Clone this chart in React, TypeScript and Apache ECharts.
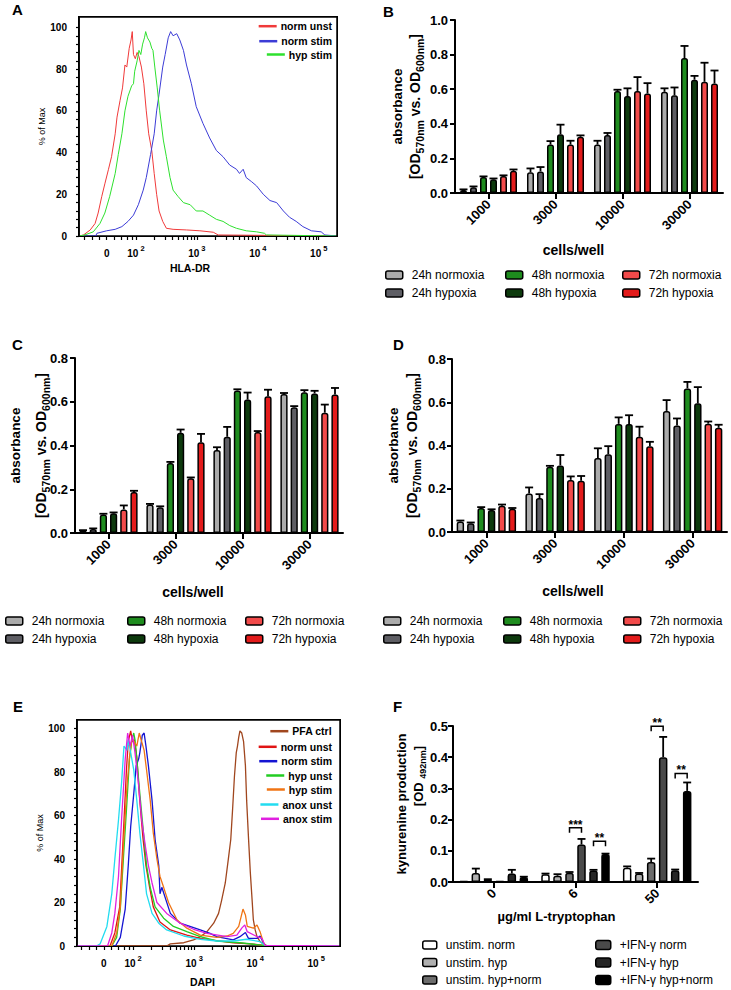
import React, { useEffect, useRef } from 'react';
import * as echarts from 'echarts';

const FONT = 'Liberation Sans, Arial, Helvetica, sans-serif';

// ---------------- Flow histograms (x in display decades: 10^2 = 2, 10^3 = 3 ...) -------------
const flowMajorTicks = [1.52, 2, 3, 4, 5];
const flowMajorExp = ['', '2', '3', '4', '5'];

// Panel A: HLA-DR
const aNormUnst: number[][] = [[1.07,0],[1.14,0.5],[1.25,2.9],[1.33,6],[1.38,11],[1.44,19],[1.49,25],[1.55,32],[1.6,38],[1.66,49],[1.69,57],[1.74,65],[1.78,71],[1.82,82],[1.85,81],[1.89,90],[1.92,94],[1.94,98],[1.96,87],[1.99,85],[2.02,88],[2.05,86],[2.09,81],[2.13,73],[2.17,60],[2.21,49],[2.26,41],[2.3,30],[2.34,20],[2.38,12],[2.44,7],[2.5,3.7],[2.61,3.2],[2.83,2.9],[3.05,2.5],[3.27,1.8],[3.35,0.5],[5.3,0]];
const aNormStim: number[][] = [[1.07,0],[1.34,0],[1.36,1.3],[1.52,2.5],[1.66,3.2],[1.77,4.5],[1.87,7],[1.96,10],[2.04,15],[2.12,22],[2.17,28],[2.24,39],[2.3,49],[2.34,60],[2.38,68],[2.44,81],[2.48,87],[2.53,95],[2.57,98],[2.61,96],[2.67,97],[2.72,94],[2.78,89],[2.83,82],[2.91,73],[2.99,62],[3.1,54],[3.21,47],[3.32,41],[3.43,38],[3.54,34],[3.65,32],[3.7,30],[3.76,32],[3.81,28],[3.9,26],[3.98,24],[4.09,20],[4.2,17],[4.31,16],[4.42,12],[4.52,9],[4.63,7],[4.74,4.5],[4.88,2.5],[5.04,2],[5.1,0.5],[5.3,0]];
const aHypStim: number[][] = [[1.07,0],[1.16,0.5],[1.3,2],[1.41,6],[1.49,11],[1.57,19],[1.66,30],[1.71,39],[1.77,49],[1.82,60],[1.87,67],[1.93,72],[1.96,73],[1.98,79],[2.02,84],[2.05,89],[2.08,87],[2.11,92],[2.14,95],[2.16,98],[2.19,95],[2.23,93],[2.26,90],[2.28,89],[2.31,81],[2.35,71],[2.39,60],[2.45,46],[2.5,38],[2.56,28],[2.61,22],[2.69,19],[2.78,16],[2.89,15],[2.99,12],[3.1,12],[3.21,10],[3.32,8],[3.43,7],[3.54,5],[3.65,3.7],[3.81,2.5],[3.98,2],[4.11,1.3],[4.14,0.5],[5.3,0]];

// Panel E: DAPI
const ePfaCtrl: number[][] = [[1.08,0],[2.55,0],[2.61,1],[2.83,1.5],[2.99,2.8],[3.1,4.3],[3.21,6.6],[3.32,10.5],[3.4,15],[3.45,21],[3.51,29],[3.56,40],[3.6,49],[3.63,63],[3.66,78],[3.69,89],[3.71,92],[3.73,96],[3.75,99],[3.78,98],[3.81,94],[3.84,83],[3.86,67],[3.89,50],[3.92,34],[3.95,21],[3.97,12],[4.0,7.4],[4.03,4.3],[4.08,2],[4.14,1],[4.19,0],[5.39,0]];
const eNormUnst: number[][] = [[1.08,0],[1.62,0],[1.7,6],[1.78,18],[1.83,46],[1.89,81],[1.92,94],[1.96,99],[1.99,94],[2.02,95],[2.06,87],[2.1,70],[2.16,50],[2.21,37],[2.27,27],[2.33,18],[2.44,11],[2.61,7.4],[2.88,5],[3.1,3.5],[3.37,2.5],[3.64,1.5],[3.92,1],[4.14,0.3],[5.39,0]];
const eNormStim: number[][] = [[1.08,0],[1.71,0],[1.79,4],[1.87,17],[1.92,37],[1.96,55],[2.01,70],[2.05,83],[2.09,86],[2.11,89],[2.15,97],[2.18,98],[2.21,92],[2.25,83],[2.31,67],[2.36,49],[2.42,37],[2.44,24],[2.47,27],[2.61,15],[2.77,10.5],[2.93,9],[3.1,7.4],[3.26,5.8],[3.37,4.3],[3.64,2.8],[3.75,4.3],[3.84,6.2],[3.89,3.5],[4.03,3.5],[4.08,4.6],[4.14,1.2],[4.19,0],[5.39,0]];
const eHypUnst: number[][] = [[1.08,0],[1.65,0],[1.73,4],[1.79,17],[1.84,40],[1.9,67],[1.94,86],[1.98,95],[2.01,98],[2.03,95],[2.06,86],[2.11,70],[2.17,52],[2.22,37],[2.28,27],[2.36,18],[2.5,12.8],[2.66,9],[2.88,6.6],[3.1,4.3],[3.37,2.3],[3.75,1.5],[4.14,0.3],[5.39,0]];
const eHypStim: number[][] = [[1.08,0],[1.65,0],[1.73,6],[1.79,18],[1.84,46],[1.9,74],[1.94,87],[1.98,95],[2.02,94],[2.06,92],[2.1,98],[2.14,94],[2.18,90],[2.22,81],[2.28,67],[2.33,52],[2.39,40],[2.44,32],[2.5,27],[2.58,20],[2.72,12],[2.88,8.2],[3.1,5],[3.37,4],[3.54,4.6],[3.64,5.8],[3.73,9],[3.77,13.5],[3.8,17],[3.84,14.3],[3.87,9],[3.97,8.2],[4.03,9.7],[4.08,6.6],[4.14,1.2],[4.19,0],[5.39,0]];
const eAnoxUnst: number[][] = [[1.08,0],[1.4,0],[1.46,1],[1.57,9],[1.65,24],[1.7,40],[1.76,58],[1.81,75],[1.85,92],[1.9,90],[1.92,95],[1.96,89],[2.01,81],[2.06,67],[2.11,52],[2.17,37],[2.22,24],[2.31,15],[2.42,10.5],[2.55,7.4],[2.83,4.6],[3.1,3.1],[3.37,2.3],[3.64,2.3],[3.86,3.1],[4.08,2],[4.16,0.3],[5.39,0]];
const eAnoxStim: number[][] = [[1.08,0],[1.58,0],[1.65,6],[1.7,15],[1.76,32],[1.81,58],[1.87,86],[1.91,98],[1.95,92],[1.99,97],[2.03,89],[2.09,74],[2.14,58],[2.2,46],[2.25,37],[2.31,29],[2.39,20],[2.55,15],[2.77,10.5],[2.99,7.7],[3.21,5.8],[3.54,4.3],[3.7,5],[3.78,8.2],[3.83,9.7],[3.87,6.6],[4.03,4.3],[4.11,3.5],[4.16,0.3],[5.39,0]];

// ---------------- Bar panels B, C, D ----------------
const cellCats = ['1000', '3000', '10000', '30000'];
const timeNames = ['24h normoxia', '24h hypoxia', '48h normoxia', '48h hypoxia', '72h normoxia', '72h hypoxia'];
const timeColors = ['#ababab', '#5e5e64', '#1e8c1e', '#0d3a0d', '#f24a4a', '#e31b1b'];

const bMeans = [
  [0.018, 0.12, 0.28, 0.585],
  [0.033, 0.125, 0.335, 0.565],
  [0.092, 0.28, 0.59, 0.78],
  [0.08, 0.34, 0.56, 0.655],
  [0.098, 0.28, 0.59, 0.643],
  [0.128, 0.325, 0.575, 0.633],
];
const bErrs = [
  [0.003, 0.022, 0.022, 0.02],
  [0.005, 0.025, 0.012, 0.045],
  [0.004, 0.02, 0.007, 0.07],
  [0.004, 0.055, 0.045, 0.022],
  [0.004, 0.022, 0.08, 0.11],
  [0.008, 0.008, 0.06, 0.075],
];
const cMeans = [
  [0.011, 0.13, 0.38, 0.635],
  [0.018, 0.118, 0.44, 0.575],
  [0.085, 0.32, 0.652, 0.643],
  [0.09, 0.458, 0.61, 0.638],
  [0.108, 0.25, 0.462, 0.55],
  [0.188, 0.415, 0.625, 0.633],
];
const cErrs = [
  [0.002, 0.003, 0.012, 0.005],
  [0.003, 0.004, 0.045, 0.005],
  [0.003, 0.005, 0.005, 0.01],
  [0.004, 0.015, 0.032, 0.012],
  [0.018, 0.004, 0.004, 0.037],
  [0.005, 0.038, 0.03, 0.03],
];
const dMeans = [
  [0.049, 0.178, 0.342, 0.56],
  [0.041, 0.157, 0.36, 0.493],
  [0.111, 0.302, 0.5, 0.664],
  [0.102, 0.308, 0.5, 0.595],
  [0.121, 0.241, 0.44, 0.501],
  [0.107, 0.237, 0.397, 0.482],
];
const dErrs = [
  [0.004, 0.028, 0.045, 0.05],
  [0.003, 0.018, 0.037, 0.032],
  [0.004, 0.004, 0.03, 0.03],
  [0.003, 0.048, 0.04, 0.075],
  [0.006, 0.016, 0.047, 0.01],
  [0.004, 0.022, 0.02, 0.014],
];

// ---------------- Panel F ----------------
const trpCats = ['0', '6', '50'];
const kynNames = ['unstim. norm', 'unstim. hyp', 'unstim. hyp+norm', '+IFN-γ norm', '+IFN-γ hyp', '+IFN-γ hyp+norm'];
const kynColors = ['#ffffff', '#b0b0b0', '#6c6c6c', '#4a4a4a', '#262626', '#000000'];
const fMeans = [
  [0.003, 0.025, 0.046],
  [0.029, 0.02, 0.027],
  [0.008, 0.03, 0.064],
  [0.003, 0.12, 0.4],
  [0.027, 0.037, 0.038],
  [0.016, 0.09, 0.292],
];
const fErrs = [
  [0, 0.002, 0.004],
  [0.014, 0.005, 0.002],
  [0.001, 0.002, 0.011],
  [0, 0.018, 0.065],
  [0.012, 0.002, 0.002],
  [0.001, 0.001, 0.027],
];
// [category, left bar, right bar, bracket height]
const fBrackets = [
  [1, 2, 3, 0.174],
  [1, 4, 5, 0.131],
  [2, 2, 3, 0.499],
  [2, 4, 5, 0.348],
];
const fBracketLabels = ['***', '**', '**', '**'];

// ---------------- helpers ----------------
const letter = (t: string, x: number, y: number) => ({
  type: 'text', left: x, top: y, silent: true,
  style: { text: t, fill: '#000', font: `bold 15px ${FONT}` },
});

function flowPanel(cfg: any) {
  const xTicks: number[] = [...flowMajorTicks, 1.15, 1.28, 1.4, 1.64, 1.76, 1.86, 1.94];
  for (const d of [2, 3, 4]) for (let k = 2; k <= 9; k++) xTicks.push(d + Math.log10(k));
  const yMajor = [0, 20, 40, 60, 80, 100];
  const yTicks: number[] = [...yMajor];
  for (let v = 4; v < 100; v += 4) if (v % 20 !== 0) yTicks.push(v);
  const g = cfg.grid;
  const frameStyle = { stroke: '#000000', lineWidth: 1.5 };
  const x0 = g.left, y0 = g.top, x1 = g.left + g.width, y1 = g.top + g.height;
  return {
    animation: false,
    textStyle: { fontFamily: FONT },
    graphic: [
      letter(cfg.letter, cfg.letterPos[0], cfg.letterPos[1]),
      { type: 'line', silent: true, z: 30, shape: { x1: x0, y1: y0, x2: x1, y2: y0 }, style: frameStyle },
      { type: 'line', silent: true, z: 30, shape: { x1: x1, y1: y0, x2: x1, y2: y1 }, style: frameStyle },
      { type: 'line', silent: true, z: 30, shape: { x1: x0, y1: y0, x2: x0, y2: y1 }, style: frameStyle },
    ],
    grid: { ...g, outerBoundsMode: 'none', containLabel: false },
    xAxis: {
      type: 'value', position: 'bottom', min: cfg.xMin, max: cfg.xMax, nameMoveOverlap: false,
      splitLine: { show: false },
      axisLine: { show: true, onZero: false, lineStyle: { color: '#000', width: 1.5 } },
      axisTick: { show: true, customValues: xTicks, length: 4, lineStyle: { color: '#000', width: 1.2 } },
      axisLabel: {
        customValues: flowMajorTicks, margin: 8, color: '#000',
        formatter: (v: number) => {
          const i = flowMajorTicks.findIndex((m) => Math.abs(m - v) < 1e-6);
          if (i < 0) return '';
          return flowMajorExp[i] ? `{n|10}{s|${flowMajorExp[i]}}` : '{n|0}';
        },
        rich: {
          n: { fontSize: 10, fontWeight: 'bold', lineHeight: 18, fontFamily: FONT, color: '#000' },
          s: { fontSize: 7.5, fontWeight: 'bold', lineHeight: 8, verticalAlign: 'top', padding: [0, 0, 0, 2], fontFamily: FONT, color: '#000' },
        },
      },
      name: cfg.xName, nameLocation: 'middle', nameGap: cfg.xNameGap,
      nameTextStyle: { fontSize: 10.5, fontWeight: 'bold', color: '#000', fontFamily: FONT, padding: [0, cfg.xNameShift * 2, 0, 0] },
    },
    yAxis: {
      type: 'value', position: 'left', min: 0, max: cfg.yMax, nameMoveOverlap: false,
      splitLine: { show: false },
      axisLine: { show: true, onZero: false, lineStyle: { color: '#000', width: 1.5 } },
      axisTick: { show: true, customValues: yTicks, length: 3, lineStyle: { color: '#000', width: 1.2 } },
      axisLabel: { customValues: yMajor, margin: 12, fontSize: 10, fontWeight: 'bold', color: '#000', fontFamily: FONT },
      name: '% of Max', nameLocation: 'middle', nameGap: cfg.yNameGap,
      nameTextStyle: { fontSize: 9, color: '#000', fontFamily: FONT },
    },
    legend: cfg.series.map((s: any, i: number) => ({
      data: [s.name], right: cfg.legendRight, top: cfg.legendTops[i] - 6, orient: 'vertical',
      icon: 'rect', itemWidth: 18, itemHeight: 2.5, padding: 0, selectedMode: false,
      textStyle: { fontSize: 10.5, fontWeight: 'bold', color: '#000', fontFamily: FONT, padding: [0, 0, 0, -1] },
    })),
    series: cfg.series.map((s: any) => ({
      type: 'line', name: s.name, data: s.data,
      symbol: 'none', showSymbol: false, silent: true, color: s.color,
      lineStyle: { color: s.color, width: cfg.lineWidth },
      itemStyle: { color: s.color },
    })),
  };
}

function barPanel(cfg: any) {
  const bw = cfg.barWidth;
  const gap = `${(((cfg.pitch - bw) / bw) * 100).toFixed(2)}%`;
  const nb = cfg.names.length;
  const errData: number[][] = [];
  cfg.means.forEach((row: number[], i: number) =>
    row.forEach((m, j) => { if (cfg.errs[i][j] > 0) errData.push([j, i, m, cfg.errs[i][j]]); }));
  const pitch = cfg.pitch;
  const series: any[] = cfg.names.map((name: string, i: number) => ({
    type: 'bar', name, data: cfg.means[i], barWidth: bw, barGap: gap, silent: true,
    itemStyle: { color: cfg.colors[i], borderColor: '#000', borderWidth: 1.5, borderRadius: [2, 2, 0, 0] },
  }));
  series.push({
    type: 'custom', name: 'err', data: errData, encode: { x: 0, y: 2 }, z: 5, silent: true, clip: false,
    renderItem: (params: any, api: any) => {
      const cat = api.value(0), idx = api.value(1), m = api.value(2), e = api.value(3);
      const p0 = api.coord([cat, m]);
      const p1 = api.coord([cat, m + e]);
      const x = p0[0] + (idx - (nb - 1) / 2) * pitch;
      const st = { stroke: '#000', lineWidth: 1.8 };
      return {
        type: 'group', children: [
          { type: 'line', shape: { x1: x, y1: p0[1], x2: x, y2: p1[1] }, style: st },
          { type: 'line', shape: { x1: x - cfg.cap / 2, y1: p1[1], x2: x + cfg.cap / 2, y2: p1[1] }, style: st },
        ],
      };
    },
  });
  if (cfg.brackets) {
    series.push({
      type: 'custom', name: 'sig', data: cfg.brackets, encode: { x: 0, y: 3 }, z: 6, silent: true, clip: false,
      renderItem: (params: any, api: any) => {
        const cat = api.value(0);
        const p = api.coord([cat, api.value(3)]);
        const xl = p[0] + (api.value(1) - (nb - 1) / 2) * pitch;
        const xr = p[0] + (api.value(2) - (nb - 1) / 2) * pitch;
        return {
          type: 'group', children: [
            { type: 'polyline', shape: { points: [[xl, p[1] + 5], [xl, p[1]], [xr, p[1]], [xr, p[1] + 5]] }, style: { stroke: '#000', lineWidth: 1.5, fill: 'none' } },
            { type: 'text', style: { text: cfg.bracketLabels[params.dataIndex], x: (xl + xr) / 2, y: p[1] + 3, align: 'center', verticalAlign: 'bottom', fontSize: 12, fontWeight: 'bold', fontFamily: FONT, fill: '#000' } },
          ],
        };
      },
    });
  }
  const lbl = { fontFamily: FONT, color: '#000', fontWeight: 'bold' };
  return {
    animation: false,
    textStyle: { fontFamily: FONT },
    graphic: [letter(cfg.letter, cfg.letterPos[0], cfg.letterPos[1])],
    grid: { ...cfg.grid, outerBoundsMode: 'none', containLabel: false },
    xAxis: {
      type: 'category', data: cfg.cats, nameMoveOverlap: false,
      axisLine: { show: true, lineStyle: { color: '#000', width: 2 } },
      axisTick: { show: true, alignWithLabel: true, length: 6, lineStyle: { color: '#000', width: 2 } },
      axisLabel: { rotate: 45, interval: 0, margin: 9, fontSize: 13, ...lbl },
      name: cfg.xName, nameLocation: 'middle', nameGap: cfg.xNameGap,
      nameTextStyle: { fontSize: cfg.xNameSize, ...lbl, padding: [0, cfg.xNameShift * 2, 0, 0] },
    },
    yAxis: {
      type: 'value', min: 0, max: cfg.yMax, interval: cfg.yInterval, nameMoveOverlap: false,
      axisLine: { show: true, lineStyle: { color: '#000', width: 2 } },
      axisTick: { show: true, length: 5, lineStyle: { color: '#000', width: 2 } },
      axisLabel: { margin: cfg.yLabelMargin, fontSize: 13, ...lbl, formatter: (v: number) => v.toFixed(1) },
      splitLine: { show: false },
      name: cfg.yName, nameLocation: 'middle', nameGap: cfg.yNameGap,
      nameTextStyle: { ...lbl, rich: cfg.yRich },
    },
    legend: cfg.legendCols.map((col: any) => ({
      data: col.names, left: col.left, top: col.top, orient: 'vertical', itemGap: cfg.legendGap,
      icon: 'roundRect', itemWidth: col.iw, itemHeight: col.ih, padding: 0, selectedMode: false,
      itemStyle: { borderColor: '#000', borderWidth: 1.5 },
      textStyle: { fontSize: 12, color: '#000', fontFamily: FONT, padding: [0, 0, 0, 4] },
    })),
    series,
  };
}

const absRich = (l1: number) => ({
  t: { fontSize: 13.5, fontWeight: 'bold', lineHeight: l1, fontFamily: FONT, color: '#000' },
  a: { fontSize: 14, fontWeight: 'bold', lineHeight: 20, fontFamily: FONT, color: '#000' },
  s: { fontSize: 10.5, fontWeight: 'bold', lineHeight: 10, verticalAlign: 'bottom', fontFamily: FONT, color: '#000' },
});
const absName = '{t|absorbance}\n{a|[OD}{s|570nm}{a| vs. OD}{s|600nm}{a|]}';

const timeLegend = (lefts: number[], top: number) => [
  { names: [timeNames[0], timeNames[1]], left: lefts[0], top, iw: 17, ih: 8 },
  { names: [timeNames[2], timeNames[3]], left: lefts[1], top, iw: 17, ih: 8 },
  { names: [timeNames[4], timeNames[5]], left: lefts[2], top, iw: 17, ih: 8 },
];

const gridA = { left: 79, top: 17, width: 258, height: 219 };
const gridE = { left: 77, top: 60, width: 263, height: 226 };

const buildA = () => flowPanel({
  letter: 'A', letterPos: [12, 2],
  grid: gridA,
  xMin: 1.066, xMax: 5.3, yMax: 105, lineWidth: 1,
  xName: 'HLA-DR', xNameGap: 26, xNameShift: 18, yNameGap: 33,
  legendRight: 33, legendTops: [26.7, 41.7, 55],
  series: [
    { name: 'norm unst', color: '#f03a3a', data: aNormUnst },
    { name: 'norm stim', color: '#3c3cd6', data: aNormStim },
    { name: 'hyp stim', color: '#2ee02e', data: aHypStim },
  ],
});

const buildE = () => flowPanel({
  letter: 'E', letterPos: [13, 39],
  grid: gridE,
  xMin: 1.08, xMax: 5.39, yMax: 104, lineWidth: 1.3,
  xName: 'DAPI', xNameGap: 30, xNameShift: 6, yNameGap: 33,
  legendRight: 33, legendTops: [71.7, 87.3, 101.7, 116, 130, 145, 159.3],
  series: [
    { name: 'PFA ctrl', color: '#a0461e', data: ePfaCtrl },
    { name: 'norm unst', color: '#e01414', data: eNormUnst },
    { name: 'norm stim', color: '#1414d2', data: eNormStim },
    { name: 'hyp unst', color: '#22cc22', data: eHypUnst },
    { name: 'hyp stim', color: '#f07414', data: eHypStim },
    { name: 'anox unst', color: '#22dcf0', data: eAnoxUnst },
    { name: 'anox stim', color: '#e020e0', data: eAnoxStim },
  ],
});

const buildB = () => barPanel({
  letter: 'B', letterPos: [18, 4],
  grid: { left: 90, top: 20, width: 268, height: 173 },
  cats: cellCats, names: timeNames, colors: timeColors, means: bMeans, errs: bErrs,
  yMax: 1.0, yInterval: 0.2, yLabelMargin: 7, barWidth: 7, pitch: 10, cap: 8,
  xName: 'cells/well', xNameGap: 50, xNameShift: 15.5, xNameSize: 14,
  yName: absName, yRich: absRich(15.4), yNameGap: 30,
  legendCols: timeLegend([20, 140, 257], 269), legendGap: 6,
});

const buildC = () => barPanel({
  letter: 'C', letterPos: [12, 7],
  grid: { left: 75, top: 28, width: 268, height: 175 },
  cats: cellCats, names: timeNames, colors: timeColors, means: cMeans, errs: cErrs,
  yMax: 0.8, yInterval: 0.2, yLabelMargin: 7, barWidth: 7.2, pitch: 10.2, cap: 8,
  xName: 'cells/well', xNameGap: 52, xNameShift: 16, xNameSize: 14,
  yName: absName, yRich: absRich(30.6), yNameGap: 24,
  legendCols: timeLegend([5, 127, 245], 285), legendGap: 6,
});

const buildD = () => barPanel({
  letter: 'D', letterPos: [28, 7],
  grid: { left: 87, top: 29, width: 275, height: 173 },
  cats: cellCats, names: timeNames, colors: timeColors, means: dMeans, errs: dErrs,
  yMax: 0.8, yInterval: 0.2, yLabelMargin: 6, barWidth: 7.4, pitch: 10.4, cap: 8,
  xName: 'cells/well', xNameGap: 52, xNameShift: 16.5, xNameSize: 14,
  yName: absName, yRich: absRich(16.8), yNameGap: 30,
  legendCols: timeLegend([18, 138, 258], 285), legendGap: 6,
});

const buildF = () => barPanel({
  letter: 'F', letterPos: [28, 39],
  grid: { left: 88, top: 66, width: 245, height: 156 },
  cats: trpCats, names: kynNames, colors: kynColors, means: fMeans, errs: fErrs,
  brackets: fBrackets, bracketLabels: fBracketLabels,
  yMax: 0.5, yInterval: 0.1, yLabelMargin: 5, barWidth: 8.5, pitch: 12, cap: 8,
  xName: 'µg/ml L-tryptophan', xNameGap: 28, xNameShift: 19, xNameSize: 13,
  yName: '{t|kynurenine production}\n{p|[OD }{s|492nm}{a|]}',
  yRich: {
    t: { fontSize: 13, fontWeight: 'bold', lineHeight: 16, fontFamily: FONT, color: '#000' },
    p: { fontSize: 13, fontWeight: 'bold', lineHeight: 18, padding: [0, 0, 0, 56], fontFamily: FONT, color: '#000' },
    a: { fontSize: 13, fontWeight: 'bold', lineHeight: 18, fontFamily: FONT, color: '#000' },
    s: { fontSize: 9, fontWeight: 'bold', lineHeight: 9, verticalAlign: 'bottom', fontFamily: FONT, color: '#000' },
  },
  yNameGap: 26,
  legendCols: [
    { names: kynNames.slice(0, 3), left: 57, top: 279, iw: 14, ih: 8 },
    { names: kynNames.slice(3, 6), left: 230, top: 279, iw: 15, ih: 9 },
  ],
  legendGap: 5.5,
});

const PANELS = [
  { key: 'A', left: 0, top: 0, w: 365, h: 330, build: buildA, frame: gridA },
  { key: 'B', left: 365, top: 0, w: 366, h: 330, build: buildB, frame: null },
  { key: 'C', left: 0, top: 330, w: 365, h: 330, build: buildC, frame: null },
  { key: 'D', left: 365, top: 330, w: 366, h: 330, build: buildD, frame: null },
  { key: 'E', left: 0, top: 660, w: 365, h: 330, build: buildE, frame: gridE },
  { key: 'F', left: 365, top: 660, w: 366, h: 330, build: buildF, frame: null },
];

export default function App() {
  const refs = useRef<(HTMLDivElement | null)[]>([]);
  useEffect(() => {
    document.body.style.margin = '0';
    const charts = PANELS.map((p, i) => {
      const c = echarts.init(refs.current[i] as HTMLDivElement, null, { renderer: 'svg' });
      c.setOption(p.build() as any);
      return c;
    });
    return () => charts.forEach((c) => c.dispose());
  }, []);
  return (
    <div style={{ position: 'relative', width: 731, height: 990, background: '#fff', overflow: 'hidden' }}>
      {PANELS.map((p, i) => (
        <div
          key={p.key}
          ref={(el) => { refs.current[i] = el; }}
          style={{ position: 'absolute', left: p.left, top: p.top, width: p.w, height: p.h }}
        />
      ))}
      {PANELS.filter((p) => p.frame).map((p) => (
        <div
          key={`${p.key}-frame`}
          style={{
            position: 'absolute', pointerEvents: 'none', boxSizing: 'border-box',
            left: p.left + (p.frame as any).left - 0.75, top: p.top + (p.frame as any).top - 0.75,
            width: (p.frame as any).width + 1.5, height: (p.frame as any).height + 1.5,
            border: '1.5px solid #000',
          }}
        />
      ))}
    </div>
  );
}
